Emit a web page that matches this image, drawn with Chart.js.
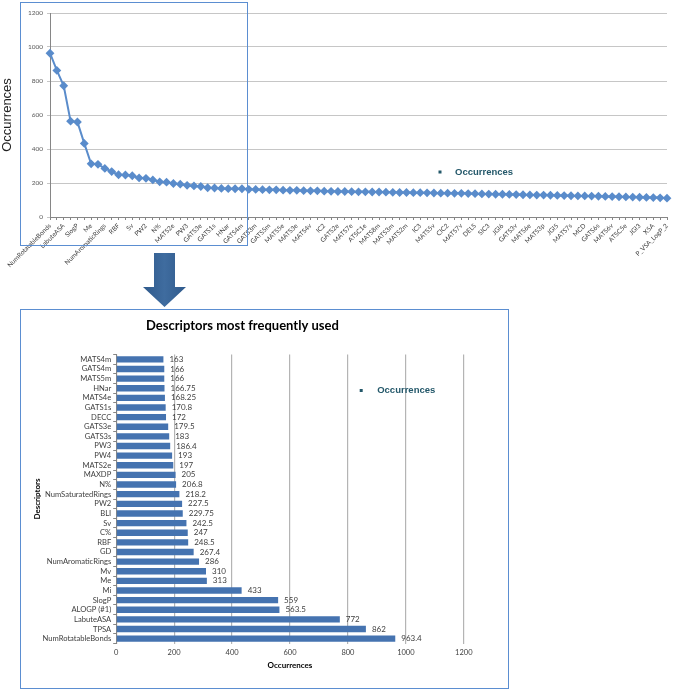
<!DOCTYPE html>
<html lang="en">
<head>
<meta charset="utf-8">
<title>Descriptors most frequently used</title>
<script src="https://cdn.jsdelivr.net/npm/chart.js@4.4.1/dist/chart.umd.min.js"></script>
<style>
  html, body { margin: 0; padding: 0; background: #fff; }
  body { width: 673px; height: 693px; position: relative; overflow: hidden; }
  #graficoTopo { position: absolute; left: 0; top: 0; }
  #moldura { position: absolute; left: 20px; top: 2px; width: 226px; height: 242px; border: 1.5px solid #5b8ed1; pointer-events: none; }
  #seta { position: absolute; left: 0; top: 0; }
  #caixa { position: absolute; left: 20px; top: 309px; width: 487px; height: 378px; border: 1.5px solid #5b8ed1; }
  #graficoBarras { position: absolute; left: 0; top: 0; }
</style>
</head>
<body>
<canvas id="graficoTopo" width="673" height="290"></canvas>
<div id="moldura"></div>
<svg id="seta" width="673" height="310">
  <defs>
    <linearGradient id="gradSeta" x1="0" y1="0" x2="1" y2="0">
      <stop offset="0" stop-color="#2f5a8c"/>
      <stop offset="0.5" stop-color="#3f6c9f"/>
      <stop offset="1" stop-color="#2f5a8c"/>
    </linearGradient>
  </defs>
  <polygon points="154,253 175,253 175,287 186,287 164.5,307 143,287 154,287" fill="url(#gradSeta)"/>
</svg>
<div id="caixa"><canvas id="graficoBarras" width="487" height="378"></canvas></div>

<script>
// ======================================================
// 1. DADOS
// ======================================================

// 30 descritores mais usados (ordem decrescente)
const descritores = ['NumRotatableBonds', 'TPSA', 'LabuteASA', 'ALOGP (#1)', 'SlogP', 'Mi', 'Me', 'Mv',
  'NumAromaticRings', 'GD', 'RBF', 'C%', 'Sv', 'BLI', 'PW2', 'NumSaturatedRings', 'N%', 'MAXDP',
  'MATS2e', 'PW4', 'PW3', 'GATS3s', 'GATS3e', 'DECC', 'GATS1s', 'MATS4e', 'HNar', 'MATS5m', 'GATS4m', 'MATS4m'];
const ocorrencias = [963.4, 862, 772, 563.5, 559, 433, 313, 310, 286, 267.4, 248.5, 247, 242.5, 229.75,
  227.5, 218.2, 206.8, 205, 197, 193, 186.4, 183, 179.5, 172, 170.8, 168.25, 166.75, 166, 166, 163];

// restante da curva (nomes impares nao aparecem no eixo)
const descritoresExtra = ['GATS3m', '', 'GATS5m', '', 'MATS5e', '', 'MATS3e', '', 'MATS4v', '', 'IC2', '',
  'GATS2e', '', 'MATS7e', '', 'ATSC1e', '', 'MATS8m', '', 'MATS3m', '', 'MATS2m', '', 'IC3', '', 'MATS5v', '',
  'CIC2', '', 'MATS7v', '', 'DELS', '', 'SIC3', '', 'JGI6', '', 'GATS3v', '', 'MATS6e', '', 'MATS3p', '',
  'JGI5', '', 'MATS7s', '', 'MCD', '', 'GATS6s', '', 'MATS6v', '', 'ATSC5e', '', 'JGI3', '', 'X5A', '',
  'P_VSA_LogP_2'];
const ocorrenciasExtra = [162, 161, 160, 160, 158, 157, 157, 155, 154, 154, 152, 151, 150, 150, 149, 148,
  148, 147, 147, 146, 145, 144, 144, 143, 143, 142, 141, 140, 140, 139, 139, 138, 137, 136, 135, 134, 134,
  133, 132, 131, 130, 129, 129, 128, 127, 126, 125, 124, 124, 123, 122, 121, 120, 119, 118, 117, 116, 115,
  114, 113, 111];

const ticksOcorrencias = [0, 200, 400, 600, 800, 1000, 1200];

Chart.defaults.font.family = 'Lato';
Chart.defaults.animation = false;

// ======================================================
// 2. PLUGINS (legenda solta e rotulos das barras)
// ======================================================

const legendaInterna = {
  id: 'legendaInterna',
  afterDraw(chart, args, opts) {
    const ctx = chart.ctx;
    ctx.save();
    ctx.fillStyle = '#24586a';
    ctx.fillRect(opts.x - 1.5, opts.y - 1.5, 3, 3);
    ctx.font = 'bold 9.5px "Liberation Sans", Arial, sans-serif';
    ctx.textBaseline = 'middle';
    ctx.fillText(chart.data.datasets[0].label, opts.xTexto, opts.y);
    ctx.restore();
  }
};

const rotulosValores = {
  id: 'rotulosValores',
  afterDatasetsDraw(chart) {
    const ctx = chart.ctx;
    const valores = chart.data.datasets[0].data;
    ctx.save();
    ctx.font = '8px Lato';
    ctx.fillStyle = '#404040';
    ctx.textBaseline = 'middle';
    chart.getDatasetMeta(0).data.forEach((barra, i) => {
      ctx.fillText(String(valores[i]), barra.x + 6, barra.y);
    });
    ctx.restore();
  }
};

// ======================================================
// 3. GRAFICO DE LINHA (TOPO)
// ======================================================

new Chart(document.getElementById('graficoTopo'), {
  type: 'line',
  data: {
    labels: descritores.concat(descritoresExtra),
    datasets: [{
      label: 'Occurrences',
      data: ocorrencias.concat(ocorrenciasExtra),
      borderColor: '#5a8ccb',
      backgroundColor: '#5a8ccb',
      borderWidth: 2,
      pointStyle: 'rectRot',
      pointRadius: 3,
      tension: 0
    }]
  },
  options: {
    responsive: false,
    layout: { padding: { top: 13, right: 3, left: 0, bottom: 0 } },
    plugins: {
      legend: { display: false },
      tooltip: { enabled: false },
      legendaInterna: { x: 440, y: 172, xTexto: 455 }
    },
    scales: {
      x: {
        offset: false,
        grid: { drawOnChartArea: false, drawTicks: true, tickLength: 3, color: '#868686' },
        border: { color: '#868686' },
        ticks: {
          autoSkip: false, maxRotation: 45, minRotation: 45, padding: 2,
          color: '#404040', font: { size: 6.5 },
          callback: function (valor, indice) { return indice % 2 === 0 ? this.getLabelForValue(valor) : ''; }
        },
        afterFit: (escala) => { escala.height = 73; escala.paddingLeft = 0; escala.paddingRight = 0; }
      },
      y: {
        min: 0, max: 1200,
        afterBuildTicks: (escala) => { escala.ticks = ticksOcorrencias.map(v => ({ value: v })); },
        grid: { color: '#c6c6c6', tickLength: 3 },
        border: { color: '#868686' },
        ticks: { color: '#595959', font: { size: 6.5 }, padding: 4, callback: (v) => String(v) },
        title: {
          display: true, text: 'Occurrences', color: '#222',
          font: { family: '"Liberation Sans", Arial, sans-serif', size: 13 },
          padding: { top: 0, bottom: 0 }
        },
        afterFit: (escala) => { escala.width = 50; }
      }
    }
  },
  plugins: [legendaInterna]
});

// ======================================================
// 4. GRAFICO DE BARRAS (DESCRITORES MAIS USADOS)
// ======================================================

new Chart(document.getElementById('graficoBarras'), {
  type: 'bar',
  data: {
    labels: descritores,
    datasets: [{
      label: 'Occurrences',
      data: ocorrencias,
      backgroundColor: '#4573b0',
      barPercentage: 0.66,
      categoryPercentage: 1
    }]
  },
  options: {
    responsive: false,
    indexAxis: 'y', // barra deitada
    layout: { padding: { top: 0, right: 44.2, left: 0, bottom: 14.5 } },
    plugins: {
      legend: { display: false },
      tooltip: { enabled: false },
      title: {
        display: true, text: 'Descriptors most frequently used', color: '#000',
        font: { size: 13, weight: 'bold' }, padding: { top: 7.7, bottom: 21.2 }
      },
      legendaInterna: { x: 340.2, y: 80.5, xTexto: 356.2 }
    },
    scales: {
      x: {
        min: 0, max: 1200,
        afterBuildTicks: (escala) => { escala.ticks = ticksOcorrencias.map(v => ({ value: v })); },
        grid: { color: '#b4b4b4', lineWidth: 1.2, drawTicks: false },
        border: { display: false },
        ticks: { color: '#404040', font: { size: 7.5 }, padding: 5, callback: (v) => String(v) },
        title: {
          display: true, text: 'Occurrences', color: '#000',
          font: { size: 8, weight: 'bold' }, padding: { top: 0, bottom: 3 }
        },
        afterFit: (escala) => { escala.height = 30; }
      },
      y: {
        reverse: true,
        grid: { drawOnChartArea: false, tickLength: 3, color: '#868686' },
        border: { color: '#868686' },
        ticks: { color: '#404040', font: { size: 7.6 }, padding: 2, autoSkip: false },
        title: {
          display: true, text: 'Descriptors', color: '#000',
          font: { size: 8, weight: 'bold' }, padding: { top: 11.4, bottom: 0 }
        },
        afterFit: (escala) => { escala.width = 95.2; }
      }
    }
  },
  plugins: [legendaInterna, rotulosValores]
});
</script>
</body>
</html>
